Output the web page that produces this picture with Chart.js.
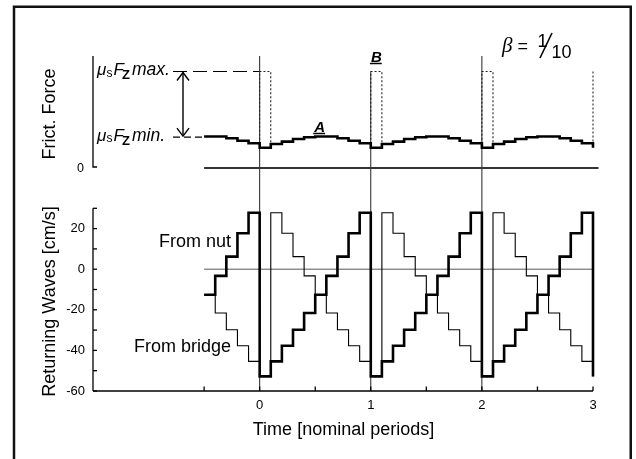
<!DOCTYPE html>
<html><head><meta charset="utf-8">
<script src="https://cdn.jsdelivr.net/npm/chart.js@4.4.1/dist/chart.umd.min.js"></script>
<style>html,body{margin:0;padding:0;background:#fff;}#wrap{position:relative;width:636px;height:459px;}</style>
</head><body><div id="wrap"><canvas id="c" width="636" height="459"></canvas></div>
<script>
// ---------------- DATA ----------------
const stepTimes = [-0.5,-0.4,-0.3,-0.2,-0.1,
  0.0,0.1,0.2,0.3,0.4,0.5,0.6,0.7,0.8,0.9,
  1.0,1.1,1.2,1.3,1.4,1.5,1.6,1.7,1.8,1.9,
  2.0,2.1,2.2,2.3,2.4,2.5,2.6,2.7,2.8,2.9,
  3.0];
// returning wave from nut (thick), cm/s
const fromNut = [-12.6,-3.3,6.2,17.7,27.8,
  -52.8,-45.4,-37.7,-29.8,-21.6,-12.6,-3.3,6.2,17.7,27.8,
  -52.8,-45.4,-37.7,-29.8,-21.6,-12.6,-3.3,6.2,17.7,27.8,
  -52.8,-45.4,-37.7,-29.8,-21.6,-12.6,-3.3,6.2,17.7,27.8,
  -52.8];
// returning wave from bridge (thin), cm/s
const fromBridge = [-12.6,-21.6,-29.8,-37.7,-45.4,
  -52.8,27.8,17.7,6.2,-3.3,-12.6,-21.6,-29.8,-37.7,-45.4,
  -52.8,27.8,17.7,6.2,-3.3,-12.6,-21.6,-29.8,-37.7,-45.4,
  -52.8,27.8,17.7,6.2,-3.3,-12.6,-21.6,-29.8,-37.7,-45.4,
  -52.8];
// friction force (A), in units of mu_s*Fz max
const frictionA = [0.326,0.326,0.308,0.283,0.256,
  0.210,0.249,0.273,0.301,0.318,0.326,0.326,0.308,0.283,0.256,
  0.210,0.249,0.273,0.301,0.318,0.326,0.326,0.308,0.283,0.256,
  0.210,0.249,0.273,0.301,0.318,0.326,0.326,0.308,0.283,0.256,
  0.210];
// static friction pulses (B)
const slipStarts = [0, 1, 2, 3];
const slipEnds = [0.1, 1.1, 2.1, null];
const muMax = 1.0;
const muMin = 0.32;
const periodLines = [0, 1, 2];
const xTickValues = [0, 1, 2, 3];
const xMinorTicks = [-0.5, 0, 0.5, 1, 1.5, 2, 2.5, 3];
const yWaveTickValues = [-60, -40, -20, 0, 20];
const yWaveMinorTicks = [-60, -50, -40, -30, -20, -10, 0, 10, 20, 30];
const zeroLineTop = [-0.5, 3.05];
const zeroLineBottom = [-0.5, 3.0];
const labelLineStart = -0.78;
const arrowT = -0.69;

// ---------------- LAYOUT ----------------
const L = 93, R = 593, T = 56, B = 391;
const W_TOP_PX = 208.3;             // pixel of +30 cm/s
const wPPU = (B - W_TOP_PX) / 90;
const wMax = -60 + (B - T) / wPPU;
const F_ZERO_PX = 168, F_MAX_PX = 71.5;
const fPPU = (F_ZERO_PX - F_MAX_PX);
const fMax = (F_ZERO_PX - T) / fPPU;
const fMin = -(B - F_ZERO_PX) / fPPU;
const SANS = '"Liberation Sans", Arial, Helvetica, sans-serif';

const pts = (ts, vs) => ts.map((t, i) => ({x: t, y: vs[i]}));
const fAt = t => frictionA[stepTimes.findIndex(s => Math.abs(s - t) < 1e-6)];

const pulseData = [];
slipStarts.forEach((s, i) => {
  const e = slipEnds[i];
  if (e === null) {
    pulseData.push({x: s, y: muMax}, {x: s, y: fAt(s)});
  } else {
    pulseData.push({x: s, y: fAt(s)}, {x: s, y: muMax}, {x: e, y: muMax}, {x: e, y: fAt(e)}, {x: e, y: null});
  }
});
const vData = [];
periodLines.forEach(t => {
  vData.push({x: t, y: fMin}, {x: t, y: t === 1 ? muMax : fMax}, {x: t, y: null});
});

const base = {pointRadius: 0, fill: false, clip: false, tension: 0, spanGaps: false};
const datasets = [
  Object.assign({label: 'From nut', data: pts(stepTimes, fromNut), yAxisID: 'yW', borderColor: '#000', borderWidth: 2.6, stepped: 'before'}, base),
  Object.assign({label: 'Friction A', data: pts(stepTimes, frictionA), yAxisID: 'yF', borderColor: '#000', borderWidth: 2.6, stepped: 'before'}, base),
  Object.assign({label: 'From bridge', data: pts(stepTimes, fromBridge), yAxisID: 'yW', borderColor: '#000', borderWidth: 1.1, stepped: 'before'}, base),
  Object.assign({label: 'Static B', data: pulseData, yAxisID: 'yF', borderColor: '#222', borderWidth: 1.1, borderDash: [2, 2]}, base),
  Object.assign({label: 'max', data: [{x: labelLineStart, y: muMax}, {x: 0, y: muMax}], yAxisID: 'yF', borderColor: '#000', borderWidth: 1.1, borderDash: [14, 6]}, base),
  Object.assign({label: 'min', data: [{x: labelLineStart, y: muMin}, {x: -0.5, y: muMin}], yAxisID: 'yF', borderColor: '#000', borderWidth: 1.1, borderDash: [7, 4]}, base),
  Object.assign({label: 'zeroTop', data: zeroLineTop.map(t => ({x: t, y: 0})), yAxisID: 'yF', borderColor: '#333', borderWidth: 1.8}, base),
  Object.assign({label: 'zeroBottom', data: zeroLineBottom.map(t => ({x: t, y: 0})), yAxisID: 'yW', borderColor: '#444', borderWidth: 0.9}, base),
  Object.assign({label: 'periods', data: vData, yAxisID: 'yF', borderColor: '#222', borderWidth: 1}, base)
];

function txt(ctx, s, x, y, font, align) {
  ctx.font = font; ctx.textAlign = align || 'left'; ctx.textBaseline = 'alphabetic';
  ctx.fillText(s, x, y);
}

const decor = {
  id: 'decor',
  beforeDraw(chart) {
    const ctx = chart.ctx;
    ctx.save();
    ctx.fillStyle = '#fff'; ctx.fillRect(0, 0, chart.width, chart.height);
    ctx.strokeStyle = '#111'; ctx.lineWidth = 2.5;
    ctx.strokeRect(14, 6.75, 616.75, 480);
    ctx.restore();
  },
  afterDraw(chart) {
    const ctx = chart.ctx, x = chart.scales.x, yW = chart.scales.yW, yF = chart.scales.yF;
    ctx.save();
    ctx.strokeStyle = '#000'; ctx.fillStyle = '#000'; ctx.lineWidth = 1.3;
    // wave y axis
    ctx.beginPath(); ctx.moveTo(L, yW.getPixelForValue(30)); ctx.lineTo(L, B); ctx.stroke();
    yWaveMinorTicks.forEach(v => { const p = yW.getPixelForValue(v); ctx.beginPath(); ctx.moveTo(L, p); ctx.lineTo(L + 4, p); ctx.stroke(); });
    // x axis
    ctx.beginPath(); ctx.moveTo(L, B); ctx.lineTo(R, B); ctx.stroke();
    xMinorTicks.forEach(t => { const p = x.getPixelForValue(t); ctx.beginPath(); ctx.moveTo(p, B); ctx.lineTo(p, B - 4.5); ctx.stroke(); });
    // friction y axis
    const f0 = yF.getPixelForValue(0) - 1;
    ctx.beginPath(); ctx.moveTo(L, T); ctx.lineTo(L, f0); ctx.lineTo(L + 4, f0); ctx.stroke();
    txt(ctx, '0', 84, f0 + 4.5, '12.5px ' + SANS, 'right');
    // arrow
    const ax = x.getPixelForValue(arrowT), a1 = yF.getPixelForValue(muMax) + 1, a2 = yF.getPixelForValue(muMin) - 1;
    ctx.lineWidth = 1.4;
    ctx.beginPath(); ctx.moveTo(ax, a1); ctx.lineTo(ax, a2); ctx.stroke();
    ctx.beginPath(); ctx.moveTo(ax - 6, a1 + 8); ctx.lineTo(ax, a1); ctx.lineTo(ax + 6, a1 + 8); ctx.stroke();
    ctx.beginPath(); ctx.moveTo(ax - 6, a2 - 8); ctx.lineTo(ax, a2); ctx.lineTo(ax + 6, a2 - 8); ctx.stroke();
    // mu labels
    const muLabel = (yb, word) => {
      txt(ctx, 'μ', 97, yb, 'italic 17px ' + SANS);
      txt(ctx, 's', 106.5, yb + 1.5, '12px ' + SANS);
      txt(ctx, 'F', 113.5, yb, 'italic 17px ' + SANS);
      txt(ctx, 'Z', 122, yb + 4, 'bold 13px ' + SANS);
      txt(ctx, word, 132, yb, 'italic 17.5px ' + SANS);
    };
    muLabel(yF.getPixelForValue(muMax) + 3.5, 'max.');
    muLabel(yF.getPixelForValue(muMin) + 3.5, 'min.');
    // A and B labels
    const ul = (s, cx, yb) => {
      ctx.font = 'bold italic 15px ' + SANS;
      const w = ctx.measureText(s).width;
      txt(ctx, s, cx, yb, 'bold italic 15px ' + SANS, 'center');
      ctx.lineWidth = 1.5;
      ctx.beginPath(); ctx.moveTo(cx - w / 2 - 1, yb + 2); ctx.lineTo(cx + w / 2, yb + 2); ctx.stroke();
    };
    ul('A', x.getPixelForValue(0.54), 131.5);
    ul('B', x.getPixelForValue(1.05), 61.5);
    // beta label
    txt(ctx, 'β', 502, 52, 'italic 21px "Liberation Serif", "DejaVu Serif", serif');
    txt(ctx, '=', 517.5, 52, '18px ' + SANS);
    txt(ctx, '1', 537.5, 46.5, '18px ' + SANS);
    ctx.lineWidth = 1.6;
    ctx.beginPath(); ctx.moveTo(540, 58); ctx.lineTo(552, 33); ctx.stroke();
    txt(ctx, '10', 551.5, 58.3, '18px ' + SANS);
    // series labels
    txt(ctx, 'From nut', 231, 247, '18px ' + SANS, 'right');
    txt(ctx, 'From bridge', 231, 352, '18px ' + SANS, 'right');
    // axis titles
    txt(ctx, 'Time [nominal periods]', 343.5, 435, '18px ' + SANS, 'center');
    const rot = (s, bx, cy) => { ctx.save(); ctx.translate(bx, cy); ctx.rotate(-Math.PI / 2); txt(ctx, s, 0, 0, '18px ' + SANS, 'center'); ctx.restore(); };
    rot('Returning Waves [cm/s]', 55, 301.5);
    rot('Frict. Force', 55, 114);
    ctx.restore();
  }
};

new Chart(document.getElementById('c'), {
  type: 'line',
  data: {datasets},
  options: {
    responsive: false, animation: false, events: [],
    layout: {padding: {left: 0, right: 636 - R, top: T, bottom: 0}},
    plugins: {legend: {display: false}, tooltip: {enabled: false}, title: {display: false}},
    scales: {
      x: {type: 'linear', min: -1.5, max: 3,
        afterBuildTicks: s => { s.ticks = xTickValues.map(v => ({value: v})); },
        afterFit: s => { s.height = 459 - B; },
        grid: {display: false, drawTicks: false}, border: {display: false},
        ticks: {autoSkip: false, maxRotation: 0, padding: 7, color: '#000', font: {size: 13, family: SANS}, callback: v => String(v)}},
      yW: {type: 'linear', position: 'left', min: -60, max: wMax,
        afterBuildTicks: s => { s.ticks = yWaveTickValues.map(v => ({value: v})); },
        afterFit: s => { s.width = L; },
        grid: {display: false, drawTicks: false}, border: {display: false},
        ticks: {autoSkip: false, padding: 8, color: '#000', font: {size: 13, family: SANS}, callback: v => String(v)}},
      yF: {type: 'linear', position: 'left', display: false, min: fMin, max: fMax}
    }
  },
  plugins: [decor]
});
</script></body></html>
